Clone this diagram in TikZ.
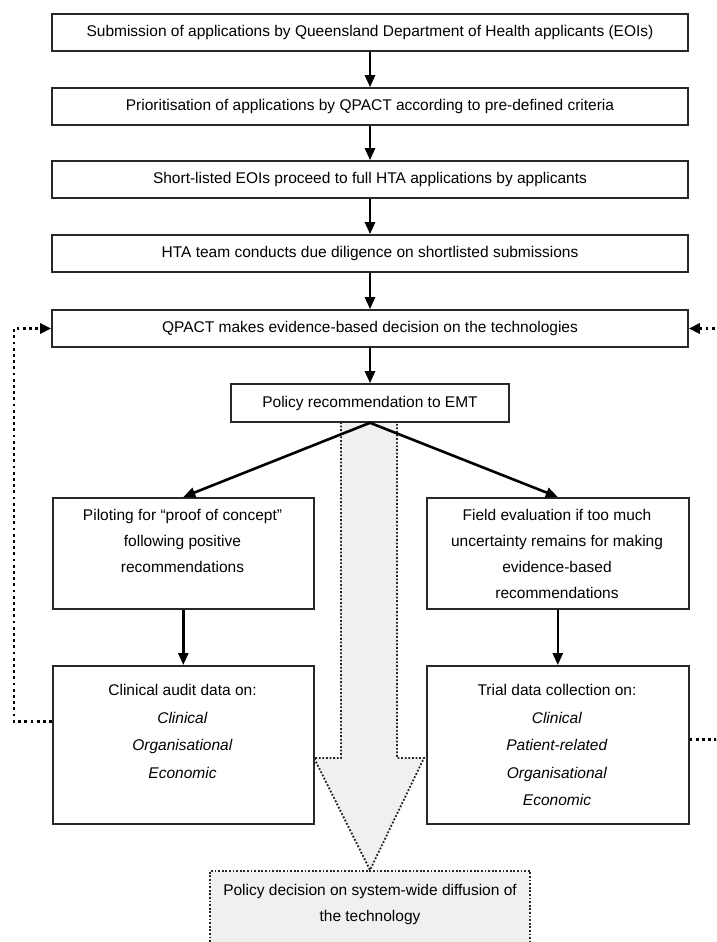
\documentclass[tikz,border=0pt]{standalone}
\usepackage{fontspec}
\setmainfont{Liberation Sans}
\usetikzlibrary{arrows.meta}
\definecolor{lg}{RGB}{239,240,240}
\definecolor{edge}{RGB}{40,40,40}
\begin{document}
\begin{tikzpicture}[x=1pt,y=-1pt,
  box/.style={draw=edge, line width=1.6pt, fill=white, inner sep=0pt},
  wide/.style={box, minimum width=636pt, minimum height=37pt, font=\fontsize{15.5}{26}\selectfont},
  side/.style={box, minimum width=261pt, anchor=north west},
  txt/.style={font=\fontsize{15.5}{26}\selectfont, align=center, inner sep=0pt, anchor=north},
  txtb/.style={font=\fontsize{15.5}{27.6}\selectfont, align=center, inner sep=0pt, anchor=north},
  arr/.style={line width=2.6pt, -{Triangle[length=12pt,width=10pt]}},
  fb/.style={line width=2.8pt, dash pattern=on 2.8pt off 3.4pt, -{Triangle[length=11pt,width=10pt]}},
  dotedge/.style={draw=black!85, line width=1.8pt, dash pattern=on 1.8pt off 1.8pt, fill=lg}
]
\useasboundingbox (0,0) rectangle (716,942);
\clip (0,0) rectangle (716,942);
\fill[white] (0,0) rectangle (716,942);

% big grey arrow and final box
\path[dotedge] (341,422) -- (341,758) -- (314,758) -- (370,870) -- (424,758) -- (397,758) -- (397,422);
\node[dotedge, minimum width=320pt, minimum height=90pt, anchor=north, inner sep=0pt] (final) at (370,870) {};
\node[txt] (finalt) at (370,884) {Policy decision on system-wide diffusion of\\the technology};

% main column
\node[wide] (sub) at (370,32.5) {Submission of applications by Queensland Department of Health applicants (EOIs)};
\node[wide] (prio) at (370,106.5) {Prioritisation of applications by QPACT according to pre-defined criteria};
\node[wide] (short) at (370,179.5) {Short-listed EOIs proceed to full HTA applications by applicants};
\node[wide] (hta) at (370,253.5) {HTA team conducts due diligence on shortlisted submissions};
\node[wide] (qpact) at (370,328.5) {QPACT makes evidence-based decision on the technologies};
\node[box, minimum width=278pt, minimum height=38pt, font=\fontsize{15.5}{26}\selectfont] (emt) at (370,403) {Policy recommendation to EMT};

% side boxes
\node[side, minimum height=111pt] (pilot) at (52,497) {};
\node[txt] (pilott) at (182.5,509) {Piloting for “proof of concept”\\following positive\\recommendations};
\node[side, minimum height=111pt, minimum width=262pt] (field) at (426,497) {};
\node[txt] (fieldt) at (557,509) {Field evaluation if too much\\uncertainty remains for making\\evidence-based\\recommendations};

\node[side, minimum height=158pt] (audit) at (52,665) {};
\node[txtb] (auditt) at (182.5,684) {Clinical audit data on:\\\textit{Clinical}\\\textit{Organisational}\\\textit{Economic}};
\node[side, minimum height=158pt, minimum width=262pt] (trial) at (426,665) {};
\node[txtb] (trialt) at (557,684) {Trial data collection on:\\\textit{Clinical}\\\textit{Patient-related}\\\textit{Organisational}\\\textit{Economic}};

% connectors
\draw[arr] (sub) -- (prio);
\draw[arr] (prio) -- (short);
\draw[arr] (short) -- (hta);
\draw[arr] (hta) -- (qpact);
\draw[arr] (qpact) -- (emt);
\draw[arr] (emt.south) -- (pilot.north);
\draw[arr] (emt.south) -- (field.north);
\draw[arr] (pilot) -- (audit);
\draw[arr] (field) -- (trial);

% feedback loops
\coordinate (fbL) at (14,328.5);
\coordinate (fbR) at (732,328.5);
\draw[fb] ([yshift=23pt]audit.west) -| (fbL) -- (qpact.west);
\draw[fb] ([yshift=5pt]trial.east) -| (fbR) -- (qpact.east);
\end{tikzpicture}
\end{document}
